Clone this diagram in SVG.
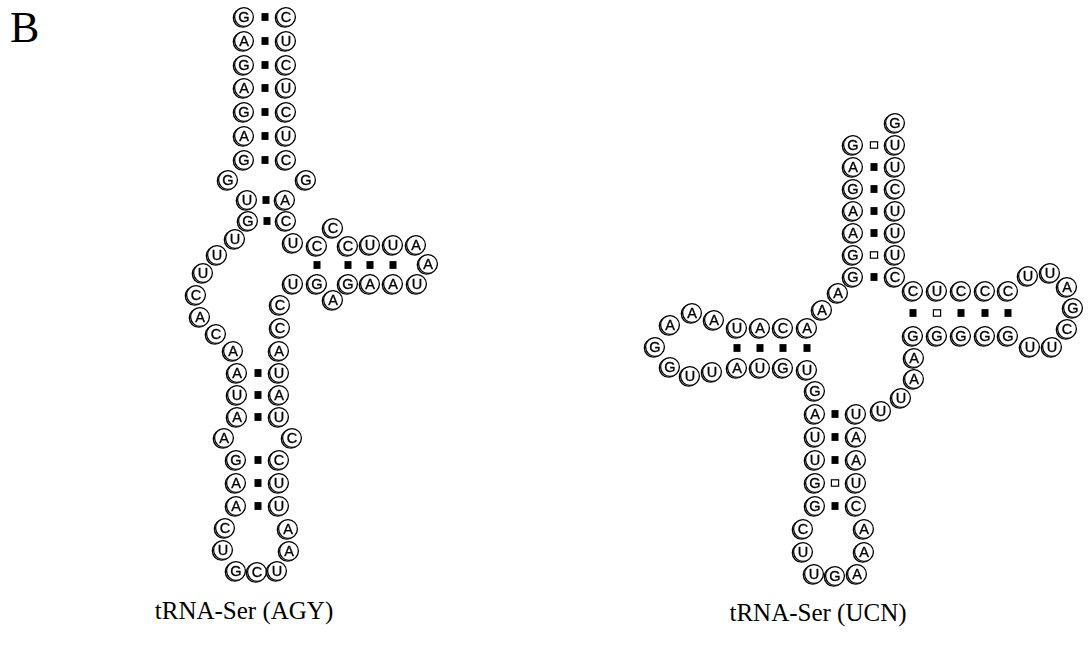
<svg xmlns="http://www.w3.org/2000/svg" xmlns:xlink="http://www.w3.org/1999/xlink" width="1088" height="652" viewBox="0 0 1088 652">
<style>
  .n text { font-family: "Liberation Sans", Arial, sans-serif; font-size: 14.5px; text-anchor: middle; fill: #000; stroke: #000; stroke-width: 0.35; }
  .mol { opacity: 0.999; }
  .wc { fill: #000; }
  .gu { fill: #fff; stroke: #000; stroke-width: 1.2; }
  .lbl { font-family: "Liberation Serif", "Times New Roman", serif; fill: #000; }
</style>
<defs>
  <!-- nucleotide disc: offset back ring gives the heavy left edge -->
  <g id="nt">
    <circle cx="-1.3" cy="0.8" r="9.4" fill="none" stroke="#000" stroke-width="1.3"/>
    <circle cx="0" cy="0" r="9.4" fill="#fff" stroke="#000" stroke-width="1.3"/>
  </g>
  <rect id="bp" x="-3.5" y="-3.9" width="7" height="7.8"/>
  <rect id="gp" x="-3.6" y="-3.2" width="7.2" height="6.4"/>
</defs>
<rect width="1088" height="652" fill="#fff"/>

<text class="lbl" x="10" y="42" font-size="44">B</text>

<!-- base pair marks -->
<g id="pairs">
  <!-- left molecule: acceptor stem -->
  <use href="#bp" class="wc" x="265" y="17"/>
  <use href="#bp" class="wc" x="265" y="41"/>
  <use href="#bp" class="wc" x="265" y="65"/>
  <use href="#bp" class="wc" x="265" y="88"/>
  <use href="#bp" class="wc" x="265" y="112"/>
  <use href="#bp" class="wc" x="265" y="136"/>
  <use href="#bp" class="wc" x="265" y="160"/>
  <use href="#bp" class="wc" x="266" y="200"/>
  <use href="#bp" class="wc" x="267" y="221"/>
  <!-- left molecule: T arm -->
  <use href="#bp" class="wc" x="317" y="265"/>
  <use href="#bp" class="wc" x="348" y="265"/>
  <use href="#bp" class="wc" x="370" y="265"/>
  <use href="#bp" class="wc" x="393" y="265"/>
  <!-- left molecule: anticodon stem -->
  <use href="#bp" class="wc" x="258" y="373"/>
  <use href="#bp" class="wc" x="258" y="395"/>
  <use href="#bp" class="wc" x="258" y="417"/>
  <use href="#bp" class="wc" x="258" y="460"/>
  <use href="#bp" class="wc" x="258" y="483"/>
  <use href="#bp" class="wc" x="258" y="506"/>
  <!-- right molecule: acceptor stem -->
  <use href="#gp" class="gu" x="874" y="145"/>
  <use href="#bp" class="wc" x="874" y="167"/>
  <use href="#bp" class="wc" x="874" y="189"/>
  <use href="#bp" class="wc" x="874" y="211"/>
  <use href="#bp" class="wc" x="874" y="233"/>
  <use href="#gp" class="gu" x="874" y="255"/>
  <use href="#bp" class="wc" x="874" y="277"/>
  <!-- right molecule: D arm -->
  <use href="#bp" class="wc" x="737" y="348"/>
  <use href="#bp" class="wc" x="760" y="348"/>
  <use href="#bp" class="wc" x="783" y="348"/>
  <use href="#bp" class="wc" x="807" y="348"/>
  <!-- right molecule: T arm -->
  <use href="#bp" class="wc" x="913" y="313"/>
  <use href="#gp" class="gu" x="937" y="313"/>
  <use href="#bp" class="wc" x="961" y="313"/>
  <use href="#bp" class="wc" x="985" y="313"/>
  <use href="#bp" class="wc" x="1008" y="313"/>
  <!-- right molecule: anticodon stem -->
  <use href="#bp" class="wc" x="835" y="414"/>
  <use href="#bp" class="wc" x="835" y="437"/>
  <use href="#bp" class="wc" x="835" y="460"/>
  <use href="#gp" class="gu" x="835" y="483"/>
  <use href="#bp" class="wc" x="835" y="506"/>
</g>

<!-- tRNA-Ser (AGY) -->
<g id="trna-agy" class="mol">
  <g id="L1" class="n" transform="translate(244 17)"><use href="#nt"/><text y="5.2">G</text></g>
  <g id="L2" class="n" transform="translate(244 41)"><use href="#nt"/><text y="5.2">A</text></g>
  <g id="L3" class="n" transform="translate(244 65)"><use href="#nt"/><text y="5.2">G</text></g>
  <g id="L4" class="n" transform="translate(244 88)"><use href="#nt"/><text y="5.2">A</text></g>
  <g id="L5" class="n" transform="translate(244 112)"><use href="#nt"/><text y="5.2">G</text></g>
  <g id="L6" class="n" transform="translate(244 136)"><use href="#nt"/><text y="5.2">A</text></g>
  <g id="L7" class="n" transform="translate(244 160)"><use href="#nt"/><text y="5.2">G</text></g>
  <g id="L8" class="n" transform="translate(228 180)"><use href="#nt"/><text y="5.2">G</text></g>
  <g id="L9" class="n" transform="translate(247 200)"><use href="#nt"/><text y="5.2">U</text></g>
  <g id="L10" class="n" transform="translate(248 221)"><use href="#nt"/><text y="5.2">G</text></g>
  <g id="L11" class="n" transform="translate(235 239)"><use href="#nt"/><text y="5.2">U</text></g>
  <g id="L12" class="n" transform="translate(217 255)"><use href="#nt"/><text y="5.2">U</text></g>
  <g id="L13" class="n" transform="translate(203 273)"><use href="#nt"/><text y="5.2">U</text></g>
  <g id="L14" class="n" transform="translate(196 295)"><use href="#nt"/><text y="5.2">C</text></g>
  <g id="L15" class="n" transform="translate(200 317)"><use href="#nt"/><text y="5.2">A</text></g>
  <g id="L16" class="n" transform="translate(216 334)"><use href="#nt"/><text y="5.2">C</text></g>
  <g id="L17" class="n" transform="translate(233 351)"><use href="#nt"/><text y="5.2">A</text></g>
  <g id="L18" class="n" transform="translate(237 373)"><use href="#nt"/><text y="5.2">A</text></g>
  <g id="L19" class="n" transform="translate(237 395)"><use href="#nt"/><text y="5.2">U</text></g>
  <g id="L20" class="n" transform="translate(237 417)"><use href="#nt"/><text y="5.2">A</text></g>
  <g id="L21" class="n" transform="translate(224 438)"><use href="#nt"/><text y="5.2">A</text></g>
  <g id="L22" class="n" transform="translate(236 460)"><use href="#nt"/><text y="5.2">G</text></g>
  <g id="L23" class="n" transform="translate(236 483)"><use href="#nt"/><text y="5.2">A</text></g>
  <g id="L24" class="n" transform="translate(236 506)"><use href="#nt"/><text y="5.2">A</text></g>
  <g id="L25" class="n" transform="translate(225 528)"><use href="#nt"/><text y="5.2">C</text></g>
  <g id="L26" class="n" transform="translate(223 550)"><use href="#nt"/><text y="5.2">U</text></g>
  <g id="L27" class="n" transform="translate(236 571)"><use href="#nt"/><text y="5.2">G</text></g>
  <g id="L28" class="n" transform="translate(257 572)"><use href="#nt"/><text y="5.2">C</text></g>
  <g id="L29" class="n" transform="translate(277 571)"><use href="#nt"/><text y="5.2">U</text></g>
  <g id="L30" class="n" transform="translate(289 551)"><use href="#nt"/><text y="5.2">A</text></g>
  <g id="L31" class="n" transform="translate(288 529)"><use href="#nt"/><text y="5.2">A</text></g>
  <g id="L32" class="n" transform="translate(279 506)"><use href="#nt"/><text y="5.2">U</text></g>
  <g id="L33" class="n" transform="translate(279 483)"><use href="#nt"/><text y="5.2">U</text></g>
  <g id="L34" class="n" transform="translate(279 460)"><use href="#nt"/><text y="5.2">C</text></g>
  <g id="L35" class="n" transform="translate(292 438)"><use href="#nt"/><text y="5.2">C</text></g>
  <g id="L36" class="n" transform="translate(279 417)"><use href="#nt"/><text y="5.2">U</text></g>
  <g id="L37" class="n" transform="translate(279 395)"><use href="#nt"/><text y="5.2">A</text></g>
  <g id="L38" class="n" transform="translate(279 373)"><use href="#nt"/><text y="5.2">U</text></g>
  <g id="L39" class="n" transform="translate(279 351)"><use href="#nt"/><text y="5.2">A</text></g>
  <g id="L40" class="n" transform="translate(280 328)"><use href="#nt"/><text y="5.2">C</text></g>
  <g id="L41" class="n" transform="translate(280 305)"><use href="#nt"/><text y="5.2">C</text></g>
  <g id="L42" class="n" transform="translate(293 284)"><use href="#nt"/><text y="5.2">U</text></g>
  <g id="L43" class="n" transform="translate(317 284)"><use href="#nt"/><text y="5.2">G</text></g>
  <g id="L44" class="n" transform="translate(333 300)"><use href="#nt"/><text y="5.2">A</text></g>
  <g id="L45" class="n" transform="translate(348 284)"><use href="#nt"/><text y="5.2">G</text></g>
  <g id="L46" class="n" transform="translate(370 284)"><use href="#nt"/><text y="5.2">A</text></g>
  <g id="L47" class="n" transform="translate(393 284)"><use href="#nt"/><text y="5.2">A</text></g>
  <g id="L48" class="n" transform="translate(417 284)"><use href="#nt"/><text y="5.2">U</text></g>
  <g id="L49" class="n" transform="translate(428 264)"><use href="#nt"/><text y="5.2">A</text></g>
  <g id="L50" class="n" transform="translate(416 245)"><use href="#nt"/><text y="5.2">A</text></g>
  <g id="L51" class="n" transform="translate(393 245)"><use href="#nt"/><text y="5.2">U</text></g>
  <g id="L52" class="n" transform="translate(370 245)"><use href="#nt"/><text y="5.2">U</text></g>
  <g id="L53" class="n" transform="translate(348 246)"><use href="#nt"/><text y="5.2">C</text></g>
  <g id="L54" class="n" transform="translate(333 228)"><use href="#nt"/><text y="5.2">C</text></g>
  <g id="L55" class="n" transform="translate(317 246)"><use href="#nt"/><text y="5.2">C</text></g>
  <g id="L56" class="n" transform="translate(293 243)"><use href="#nt"/><text y="5.2">U</text></g>
  <g id="L57" class="n" transform="translate(286 221)"><use href="#nt"/><text y="5.2">C</text></g>
  <g id="L58" class="n" transform="translate(285 200)"><use href="#nt"/><text y="5.2">A</text></g>
  <g id="L59" class="n" transform="translate(306 180)"><use href="#nt"/><text y="5.2">G</text></g>
  <g id="L60" class="n" transform="translate(286 160)"><use href="#nt"/><text y="5.2">C</text></g>
  <g id="L61" class="n" transform="translate(286 136)"><use href="#nt"/><text y="5.2">U</text></g>
  <g id="L62" class="n" transform="translate(286 112)"><use href="#nt"/><text y="5.2">C</text></g>
  <g id="L63" class="n" transform="translate(286 88)"><use href="#nt"/><text y="5.2">U</text></g>
  <g id="L64" class="n" transform="translate(286 65)"><use href="#nt"/><text y="5.2">C</text></g>
  <g id="L65" class="n" transform="translate(286 41)"><use href="#nt"/><text y="5.2">U</text></g>
  <g id="L66" class="n" transform="translate(286 17)"><use href="#nt"/><text y="5.2">C</text></g>
</g>

<!-- tRNA-Ser (UCN) -->
<g id="trna-ucn" class="mol">
  <g id="R1" class="n" transform="translate(853 145)"><use href="#nt"/><text y="5.2">G</text></g>
  <g id="R2" class="n" transform="translate(853 167)"><use href="#nt"/><text y="5.2">A</text></g>
  <g id="R3" class="n" transform="translate(853 189)"><use href="#nt"/><text y="5.2">G</text></g>
  <g id="R4" class="n" transform="translate(853 211)"><use href="#nt"/><text y="5.2">A</text></g>
  <g id="R5" class="n" transform="translate(853 233)"><use href="#nt"/><text y="5.2">A</text></g>
  <g id="R6" class="n" transform="translate(853 255)"><use href="#nt"/><text y="5.2">G</text></g>
  <g id="R7" class="n" transform="translate(853 277)"><use href="#nt"/><text y="5.2">G</text></g>
  <g id="R8" class="n" transform="translate(838 293)"><use href="#nt"/><text y="5.2">A</text></g>
  <g id="R9" class="n" transform="translate(822 310)"><use href="#nt"/><text y="5.2">A</text></g>
  <g id="R10" class="n" transform="translate(807 328)"><use href="#nt"/><text y="5.2">A</text></g>
  <g id="R11" class="n" transform="translate(783 328)"><use href="#nt"/><text y="5.2">C</text></g>
  <g id="R12" class="n" transform="translate(760 328)"><use href="#nt"/><text y="5.2">A</text></g>
  <g id="R13" class="n" transform="translate(737 328)"><use href="#nt"/><text y="5.2">U</text></g>
  <g id="R14" class="n" transform="translate(714 320)"><use href="#nt"/><text y="5.2">A</text></g>
  <g id="R15" class="n" transform="translate(692 313)"><use href="#nt"/><text y="5.2">A</text></g>
  <g id="R16" class="n" transform="translate(670 325)"><use href="#nt"/><text y="5.2">A</text></g>
  <g id="R17" class="n" transform="translate(655 347)"><use href="#nt"/><text y="5.2">G</text></g>
  <g id="R18" class="n" transform="translate(670 367)"><use href="#nt"/><text y="5.2">G</text></g>
  <g id="R19" class="n" transform="translate(690 376)"><use href="#nt"/><text y="5.2">U</text></g>
  <g id="R20" class="n" transform="translate(712 372)"><use href="#nt"/><text y="5.2">U</text></g>
  <g id="R21" class="n" transform="translate(737 368)"><use href="#nt"/><text y="5.2">A</text></g>
  <g id="R22" class="n" transform="translate(760 368)"><use href="#nt"/><text y="5.2">U</text></g>
  <g id="R23" class="n" transform="translate(783 368)"><use href="#nt"/><text y="5.2">G</text></g>
  <g id="R24" class="n" transform="translate(807 370)"><use href="#nt"/><text y="5.2">U</text></g>
  <g id="R25" class="n" transform="translate(815 391)"><use href="#nt"/><text y="5.2">G</text></g>
  <g id="R26" class="n" transform="translate(815 414)"><use href="#nt"/><text y="5.2">A</text></g>
  <g id="R27" class="n" transform="translate(815 437)"><use href="#nt"/><text y="5.2">U</text></g>
  <g id="R28" class="n" transform="translate(815 460)"><use href="#nt"/><text y="5.2">U</text></g>
  <g id="R29" class="n" transform="translate(815 483)"><use href="#nt"/><text y="5.2">G</text></g>
  <g id="R30" class="n" transform="translate(815 506)"><use href="#nt"/><text y="5.2">G</text></g>
  <g id="R31" class="n" transform="translate(803 529)"><use href="#nt"/><text y="5.2">C</text></g>
  <g id="R32" class="n" transform="translate(803 552)"><use href="#nt"/><text y="5.2">U</text></g>
  <g id="R33" class="n" transform="translate(814 574)"><use href="#nt"/><text y="5.2">U</text></g>
  <g id="R34" class="n" transform="translate(835 576)"><use href="#nt"/><text y="5.2">G</text></g>
  <g id="R35" class="n" transform="translate(857 574)"><use href="#nt"/><text y="5.2">A</text></g>
  <g id="R36" class="n" transform="translate(864 552)"><use href="#nt"/><text y="5.2">A</text></g>
  <g id="R37" class="n" transform="translate(864 529)"><use href="#nt"/><text y="5.2">A</text></g>
  <g id="R38" class="n" transform="translate(856 506)"><use href="#nt"/><text y="5.2">C</text></g>
  <g id="R39" class="n" transform="translate(856 483)"><use href="#nt"/><text y="5.2">U</text></g>
  <g id="R40" class="n" transform="translate(856 460)"><use href="#nt"/><text y="5.2">A</text></g>
  <g id="R41" class="n" transform="translate(856 437)"><use href="#nt"/><text y="5.2">A</text></g>
  <g id="R42" class="n" transform="translate(856 414)"><use href="#nt"/><text y="5.2">U</text></g>
  <g id="R43" class="n" transform="translate(881 411)"><use href="#nt"/><text y="5.2">U</text></g>
  <g id="R44" class="n" transform="translate(901 398)"><use href="#nt"/><text y="5.2">U</text></g>
  <g id="R45" class="n" transform="translate(914 379)"><use href="#nt"/><text y="5.2">A</text></g>
  <g id="R46" class="n" transform="translate(914 358)"><use href="#nt"/><text y="5.2">A</text></g>
  <g id="R47" class="n" transform="translate(913 336)"><use href="#nt"/><text y="5.2">G</text></g>
  <g id="R48" class="n" transform="translate(937 336)"><use href="#nt"/><text y="5.2">G</text></g>
  <g id="R49" class="n" transform="translate(961 336)"><use href="#nt"/><text y="5.2">G</text></g>
  <g id="R50" class="n" transform="translate(985 336)"><use href="#nt"/><text y="5.2">G</text></g>
  <g id="R51" class="n" transform="translate(1008 336)"><use href="#nt"/><text y="5.2">G</text></g>
  <g id="R52" class="n" transform="translate(1030 347)"><use href="#nt"/><text y="5.2">U</text></g>
  <g id="R53" class="n" transform="translate(1052 347)"><use href="#nt"/><text y="5.2">U</text></g>
  <g id="R54" class="n" transform="translate(1067 329)"><use href="#nt"/><text y="5.2">C</text></g>
  <g id="R55" class="n" transform="translate(1073 308)"><use href="#nt"/><text y="5.2">G</text></g>
  <g id="R56" class="n" transform="translate(1067 287)"><use href="#nt"/><text y="5.2">A</text></g>
  <g id="R57" class="n" transform="translate(1050 273)"><use href="#nt"/><text y="5.2">U</text></g>
  <g id="R58" class="n" transform="translate(1028 276)"><use href="#nt"/><text y="5.2">U</text></g>
  <g id="R59" class="n" transform="translate(1008 291)"><use href="#nt"/><text y="5.2">C</text></g>
  <g id="R60" class="n" transform="translate(985 291)"><use href="#nt"/><text y="5.2">C</text></g>
  <g id="R61" class="n" transform="translate(961 291)"><use href="#nt"/><text y="5.2">C</text></g>
  <g id="R62" class="n" transform="translate(937 291)"><use href="#nt"/><text y="5.2">U</text></g>
  <g id="R63" class="n" transform="translate(913 291)"><use href="#nt"/><text y="5.2">C</text></g>
  <g id="R64" class="n" transform="translate(895 277)"><use href="#nt"/><text y="5.2">C</text></g>
  <g id="R65" class="n" transform="translate(895 255)"><use href="#nt"/><text y="5.2">U</text></g>
  <g id="R66" class="n" transform="translate(895 233)"><use href="#nt"/><text y="5.2">U</text></g>
  <g id="R67" class="n" transform="translate(895 211)"><use href="#nt"/><text y="5.2">U</text></g>
  <g id="R68" class="n" transform="translate(895 189)"><use href="#nt"/><text y="5.2">C</text></g>
  <g id="R69" class="n" transform="translate(895 167)"><use href="#nt"/><text y="5.2">U</text></g>
  <g id="R70" class="n" transform="translate(895 145)"><use href="#nt"/><text y="5.2">U</text></g>
  <g id="R71" class="n" transform="translate(895 123)"><use href="#nt"/><text y="5.2">G</text></g>
</g>

<text class="lbl" x="244" y="619" font-size="25" text-anchor="middle">tRNA-Ser (AGY)</text>
<text class="lbl" x="818" y="621" font-size="25" text-anchor="middle">tRNA-Ser (UCN)</text>
</svg>
